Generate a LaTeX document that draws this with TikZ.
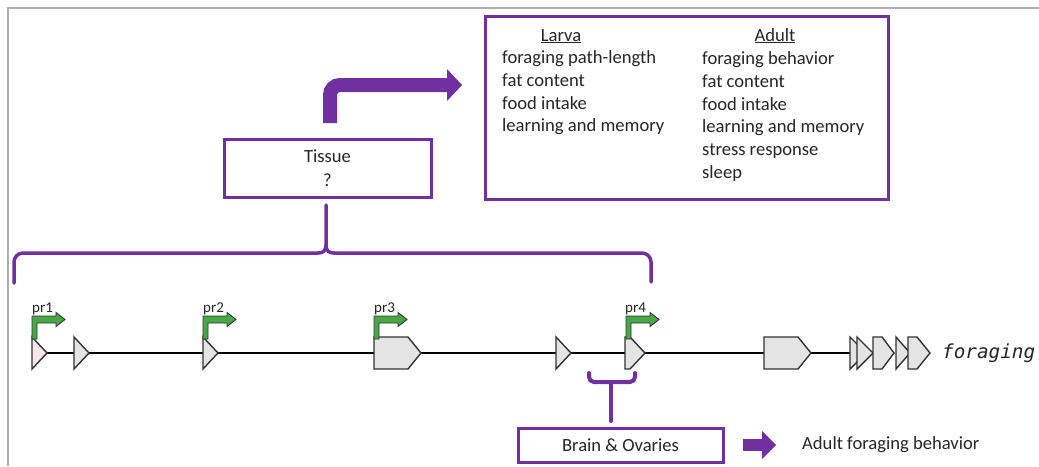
\documentclass[tikz,border=0pt]{standalone}
\usepackage{fontspec}
\setmainfont{Carlito}
\newfontfamily\genemono{DejaVu Sans Mono}
\definecolor{ppl}{RGB}{112,48,160}
\definecolor{prgreen}{RGB}{72,168,72}
\definecolor{partfill}{RGB}{228,228,228}
\definecolor{partline}{RGB}{50,50,50}
\definecolor{pinkfill}{RGB}{252,228,236}
\definecolor{framegray}{RGB}{175,175,175}
\newcommand\PromArrow[1]{%
  \path[prom] (#1,339) -- (#1,316) -- ({#1+24},316) -- ({#1+24},312.5) -- ({#1+33},319.5)
    -- ({#1+24},326.5) -- ({#1+24},323) -- ({#1+5},323) -- ({#1+5},339) -- cycle;}
\newcommand\TriPart[2]{%
  \path[part] (#1,337) -- (#2,353) -- (#1,369) -- cycle;}
\newcommand\PentPart[3]{%
  \path[part] (#1,337) -- (#2,337) -- (#3,353) -- (#2,369) -- (#1,369) -- cycle;}
\begin{document}
\begin{tikzpicture}[x=1pt,y=-1pt,
  lbl/.style={font=\fontsize{18.6}{22.8}\selectfont, inner sep=0pt, anchor=base west, text=black!85},
  pbox/.style={draw=ppl, line width=3pt, inner sep=0pt, fill=white},
  brace/.style={draw=ppl, line width=3.5pt, line cap=round},
  part/.style={fill=partfill, draw=partline, line width=1.4pt, line join=miter},
  prom/.style={fill=prgreen, draw=partline, line width=0.9pt},
  prlbl/.style={font=\fontsize{15}{15}\selectfont, inner sep=0pt, anchor=base west, text=black!85},
]
\useasboundingbox (0,0) rectangle (1039,466);
\fill[white] (0,0) rectangle (1039,466);
% frame
\draw[framegray, line width=2pt] (8,466) -- (8,8) -- (1039,8);

% traits box
\node[pbox, minimum width=403pt, minimum height=183pt] (traits) at (686.5,107.5) {};
\node[lbl, anchor=base] (larvah) at (561,41) {\underline{Larva}};
\node[lbl] (l1) at (502,63.5) {foraging path-length};
\node[lbl] (l2) at (502,86.3) {fat content};
\node[lbl] (l3) at (502,109.1) {food intake};
\node[lbl] (l4) at (502,131.9) {learning and memory};
\node[lbl, anchor=base] (adulth) at (775,41) {\underline{Adult}};
\node[lbl] (a1) at (702,64.5) {foraging behavior};
\node[lbl] (a2) at (702,87.3) {fat content};
\node[lbl] (a3) at (702,110.1) {food intake};
\node[lbl] (a4) at (702,132.9) {learning and memory};
\node[lbl] (a5) at (702,155.7) {stress response};
\node[lbl] (a6) at (702,178.5) {sleep};

% tissue box
\node[pbox, minimum width=207pt, minimum height=58pt, align=center,
      font=\fontsize{18.6}{24}\selectfont, text=black!85] (tissue) at (327.5,168) {Tissue\\?};

% bent arrow
\coordinate (bentS) at (330,123);
\coordinate (bentC) at (330,85);
\coordinate (bentE) at (448,85);
\draw[ppl, line width=14pt, rounded corners=10pt] (bentS) -- (bentC) -- (bentE);
\fill[ppl] (447,69) -- (462,85) -- (447,101) -- cycle;

% big brace
\coordinate (bL) at (14,283);
\coordinate (bR) at (651,282);
\coordinate (bT) at (326,205);
\draw[brace, rounded corners=9pt] (bL) -- (14,253) -- (318,253);
\draw[brace, rounded corners=9pt] (bR) -- (651,253) -- (334,253);
\draw[brace] (318,253) .. controls (323,253) and (326,251) .. (326,245) -- (bT);
\draw[brace] (334,253) .. controls (329,253) and (326,251) .. (326,245);

% gene line
\coordinate (gS) at (38,353);
\coordinate (gE) at (852,353);
\draw[black, line width=2.6pt] (gS) -- (gE);

% parts
\path[part, fill=pinkfill] (32,337) -- (47,353) -- (32,369) -- cycle;
\TriPart{74}{89}
\TriPart{203}{218}
\PentPart{374}{408}{421}
\TriPart{556}{571}
\PentPart{625}{630}{645}
\PentPart{764}{798}{811}
\TriPart{850}{866}
\TriPart{857}{873}
\PentPart{873}{882}{894}
\TriPart{896}{910}
\PentPart{908}{917}{930}

% promoters
\PromArrow{32}
\PromArrow{203}
\PromArrow{374}
\PromArrow{626}
\node[prlbl] (pr1) at (32,312) {pr1};
\node[prlbl] (pr2) at (203,312) {pr2};
\node[prlbl] (pr3) at (374,312) {pr3};
\node[prlbl] (pr4) at (625,312) {pr4};

\node[inner sep=0pt, anchor=base west, font=\genemono\itshape\fontsize{19.3}{19.3}\selectfont, text=black!85] (foraging) at (942,358) {foraging};

% small brace
\coordinate (sL) at (589,373);
\coordinate (sR) at (635,373);
\coordinate (sM) at (611,382);
\coordinate (sT) at (611,421);
\draw[brace, line width=4pt, rounded corners=5pt] (sL) -- (589,382) -- (635,382) -- (sR);
\draw[brace, line width=4pt] (sM) -- (sT);

% brain box
\node[pbox, minimum width=205pt, minimum height=34pt,
      font=\fontsize{18.6}{22.8}\selectfont, text=black!85] (brain) at (620.5,445) {Brain \& Ovaries};
\coordinate (arS) at (743,445);
\coordinate (arE) at (763,445);
\draw[ppl, line width=12pt] (arS) -- (arE);
\fill[ppl] (762,431) -- (776,445) -- (762,459) -- cycle;
\node[lbl, anchor=west] (adultfb) at (802,445) {Adult foraging behavior};
\end{tikzpicture}
\end{document}
